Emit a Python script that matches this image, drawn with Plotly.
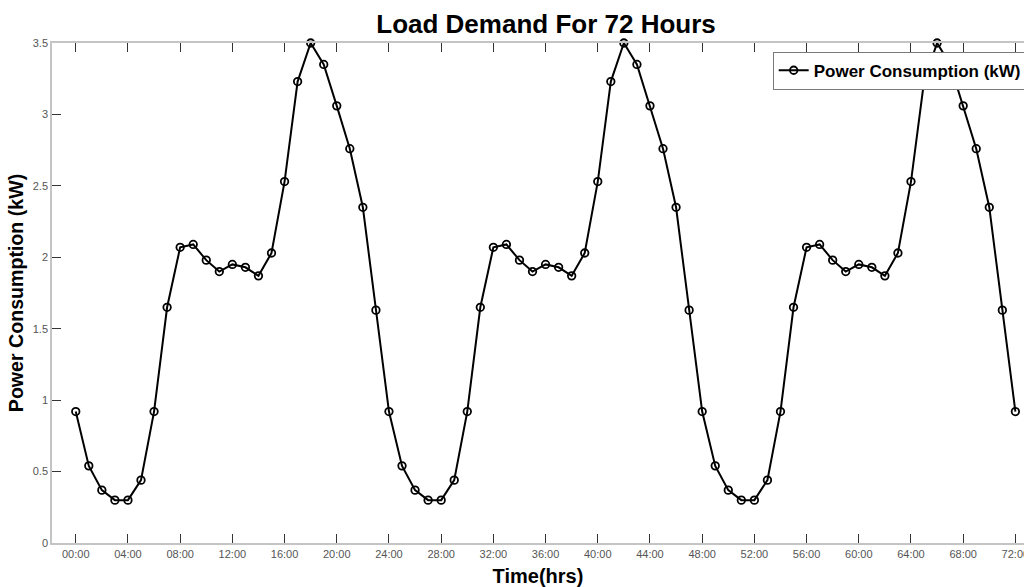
import plotly.graph_objects as go

hours = list(range(0, 73))
power_kw = [
    0.92, 0.54, 0.37, 0.30, 0.30, 0.44, 0.92, 1.65, 2.07, 2.09, 1.98, 1.90,
    1.95, 1.93, 1.87, 2.03, 2.53, 3.23, 3.50, 3.35, 3.06, 2.76, 2.35, 1.63,
    0.92, 0.54, 0.37, 0.30, 0.30, 0.44, 0.92, 1.65, 2.07, 2.09, 1.98, 1.90,
    1.95, 1.93, 1.87, 2.03, 2.53, 3.23, 3.50, 3.35, 3.06, 2.76, 2.35, 1.63,
    0.92, 0.54, 0.37, 0.30, 0.30, 0.44, 0.92, 1.65, 2.07, 2.09, 1.98, 1.90,
    1.95, 1.93, 1.87, 2.03, 2.53, 3.23, 3.50, 3.35, 3.06, 2.76, 2.35, 1.63,
    0.92,
]
x_tick_vals = list(range(0, 73, 4))
x_tick_text = ["00:00", "04:00", "08:00", "12:00", "16:00", "20:00", "24:00",
               "28:00", "32:00", "36:00", "40:00", "44:00", "48:00", "52:00",
               "56:00", "60:00", "64:00", "68:00", "72:00"]
y_tick_vals = [0, 0.5, 1, 1.5, 2, 2.5, 3, 3.5]
y_tick_text = ["0", "0.5", "1", "1.5", "2", "2.5", "3", "3.5"]

FONT = "Liberation Sans, Arial, sans-serif"

fig = go.Figure()
fig.add_trace(go.Scatter(
    x=hours, y=power_kw, mode="lines+markers",
    name="Power Consumption (kW)",
    line=dict(color="black", width=2),
    marker=dict(symbol="circle-open", size=7.5, color="black",
                line=dict(width=1.8, color="black")),
    cliponaxis=False,
))

fig.update_layout(
    width=1024, height=587,
    margin=dict(l=52, r=0, t=43, b=44, autoexpand=False),
    paper_bgcolor="white", plot_bgcolor="white",
    showlegend=True,
    title=dict(text="Load Demand For 72 Hours", x=546/1024, xanchor="center",
               xref="container",
               y=1 - 24/587, yanchor="middle",
               font=dict(family=FONT, size=26, color="black", weight=700)),
    legend=dict(x=(772.7-52)/972, y=(543-51.7)/500, xanchor="left", yanchor="top",
                bgcolor="white", bordercolor="#7a7a7a", borderwidth=1,
                font=dict(family=FONT, size=17, color="black", weight=700),
                itemwidth=30, tracegroupgap=0),
    xaxis=dict(range=[-1.82, 72.66], tickvals=x_tick_vals, ticktext=x_tick_text,
               ticks="inside", ticklen=9, tickwidth=1, tickcolor="#333333",
               ticklabeloverflow="allow",
               showline=True, linecolor="#c4c4c4", linewidth=1.5, mirror="ticks",
               showgrid=False, zeroline=False,
               tickfont=dict(family=FONT, size=11, color="#555555"),
               title=dict(text="Time(hrs)", standoff=10,
                          font=dict(family=FONT, size=20, color="black", weight=700))),
    yaxis=dict(range=[0, 3.5], tickvals=y_tick_vals, ticktext=y_tick_text,
               ticks="inside", ticklen=9, tickwidth=1, tickcolor="#333333",
               showline=True, linecolor="#c4c4c4", linewidth=1.5, mirror=False,
               showgrid=False, zeroline=False,
               tickfont=dict(family=FONT, size=11, color="#555555"),
               title=dict(text="Power Consumption (kW)", standoff=4,
                          font=dict(family=FONT, size=19.6, color="black", weight=700))),
)

fig.write_html("out.html")
